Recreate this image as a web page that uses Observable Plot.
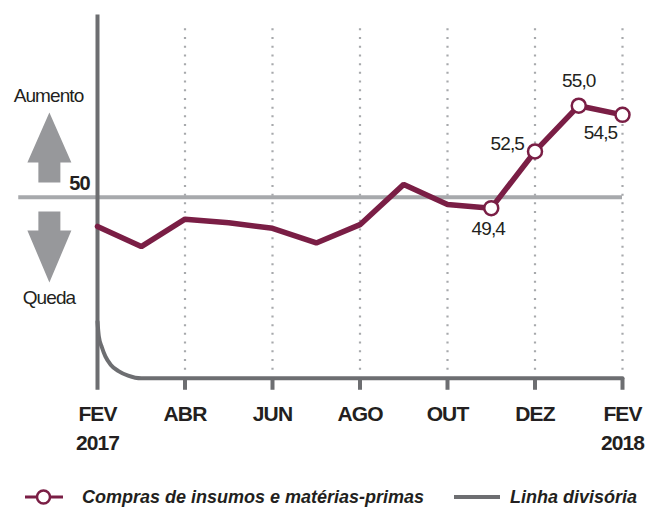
<!DOCTYPE html>
<html><head><meta charset="utf-8">
<script src="https://cdn.jsdelivr.net/npm/d3@7"></script>
<script src="https://cdn.jsdelivr.net/npm/@observablehq/plot@0.6"></script>
<style>
body{margin:0;background:#fff;font-family:"Liberation Sans",Arial,sans-serif;}
#chart svg{display:block;}
#legend{position:relative;height:29px;width:648px;color:#231f20;font-weight:bold;font-style:italic;font-size:18px;}
#legend .it{position:absolute;top:0;height:29px;line-height:29px;white-space:nowrap;}
#legend svg{position:absolute;top:0;}
</style></head><body>
<div id="chart"></div>
<div id="legend"></div>
<script>
// ---- data ----
const monthIndex = [0,1,2,3,4,5,6,7,8,9,10,11,12];
const monthNames = ["FEV\n2017","MAR","ABR","MAI","JUN","JUL","AGO","SET","OUT","NOV","DEZ","JAN","FEV\n2018"];
const compras = [48.4,47.3,48.8,48.6,48.3,47.5,48.5,50.7,49.6,49.4,52.5,55.0,54.5];
const markedMonths = [9,10,11,12];
const tickMonths = [0,2,4,6,8,10,12];
const gridMonths = [2,4,6,8,10,12];
const divisoriaMonth = [0,0.03,0.1,0.18,0.3,0.48,0.7,1,12];
const divisoriaValue = [43.2,42.4,41.8,41.3,40.85,40.5,40.25,40.1,40.1];
const referenceLevel = 50;
const seriesName = "Compras de insumos e matérias-primas";
const divisoriaName = "Linha divisória";

// ---- style ----
const maroon = "#7a1e45";
const darkGray = "#6d6e71";
const lightGray = "#a7a9ac";
const ink = "#231f20";

const comprasData = monthIndex.map((m,i)=>({m, v: compras[i]}));
const marked = comprasData.filter(d=>markedMonths.includes(d.m));
const labelOffsets = {9:{dx:-3,dy:21,anchor:"middle"},10:{dx:-11,dy:-8,anchor:"end"},11:{dx:0,dy:-25,anchor:"middle"},12:{dx:-22,dy:18,anchor:"middle"}};
const fmt = v => v.toFixed(1).replace(".", ",");
const divisoria = divisoriaMonth.map((m,i)=>({m, v: divisoriaValue[i]}));

const arrowUp = {draw(ctx){ctx.moveTo(0,-35);ctx.lineTo(22,15);ctx.lineTo(11,15);ctx.lineTo(11,35);ctx.lineTo(-11,35);ctx.lineTo(-11,15);ctx.lineTo(-22,15);ctx.closePath();}};
const arrowDown = {draw(ctx){ctx.moveTo(0,35.5);ctx.lineTo(22,-16.5);ctx.lineTo(11,-16.5);ctx.lineTo(11,-35.5);ctx.lineTo(-11,-35.5);ctx.lineTo(-11,-16.5);ctx.lineTo(-22,-16.5);ctx.closePath();}};

const chart = Plot.plot({
  width: 648, height: 480,
  marginTop: 0, marginLeft: 0, marginRight: 0, marginBottom: 90,
  style: {fontFamily: "'Liberation Sans', Arial, sans-serif", letterSpacing: "-0.9px"},
  x: {domain: [0,12], range: [97,622]},
  y: {domain: [40,60], range: [379.7,13.7], axis: null},
  marks: [
    Plot.ruleX(gridMonths, {y1: 40.55, y2: 59.55, stroke: lightGray, strokeWidth: 2.2, strokeDasharray: "2,6.7"}),
    Plot.ruleY([referenceLevel], {x1: -1.8, x2: 12, stroke: lightGray, strokeWidth: 4}),
    Plot.ruleX([0], {y1: 39.45, y2: 59.95, stroke: darkGray, strokeWidth: 4}),
    Plot.line(divisoria, {x: "m", y: "v", stroke: darkGray, strokeWidth: 4, curve: "monotone-x"}),
    Plot.ruleX(gridMonths, {y1: 39.45, y2: 40.1, stroke: darkGray, strokeWidth: 4}),
    Plot.dot([{m:-1.1, v:52.72}], {x:"m", y:"v", symbol: arrowUp, fill: "#97989b", stroke: null}),
    Plot.dot([{m:-1.1, v:47.28}], {x:"m", y:"v", symbol: arrowDown, fill: "#97989b", stroke: null}),
    Plot.text([{m:-1.12, v:55.53, t:"Aumento"},{m:-1.11, v:44.49, t:"Queda"}], {x:"m", y:"v", text:"t", fontSize: 19, fill: ink}),
    Plot.text([{m:-0.18, v:50.72, t:String(referenceLevel)}], {x:"m", y:"v", text:"t", textAnchor:"end", fontSize: 20, fontWeight:"bold", fill: ink}),
    Plot.line(comprasData, {x:"m", y:"v", stroke: maroon, strokeWidth: 5.5, strokeLinejoin: "miter"}),
    Plot.dot(marked, {x:"m", y:"v", r: 7, fill: "white", stroke: maroon, strokeWidth: 2.5}),
    ...marked.map(d => Plot.text([d], {x:"m", y:"v", text: e => fmt(e.v), dx: labelOffsets[d.m].dx, dy: labelOffsets[d.m].dy, textAnchor: labelOffsets[d.m].anchor, fontSize: 19, fill: ink})),
    Plot.axisX({ticks: tickMonths, tickFormat: m => monthNames[m], tickSize: 0, tickPadding: 10, fontSize: 21, fontWeight: "bold", lineHeight: 1.38, fill: ink, label: null})
  ]
});
document.getElementById("chart").appendChild(chart);

const leg = document.getElementById("legend");
leg.innerHTML = `
<svg width="40" height="29" style="left:24px"><line x1="1" x2="39" y1="17" y2="17" stroke="${maroon}" stroke-width="3"/><circle cx="19.5" cy="17" r="6.5" fill="white" stroke="${maroon}" stroke-width="2.5"/></svg>
<span class="it" style="left:82px;top:3px">${seriesName}</span>
<svg width="48" height="29" style="left:454px"><line x1="0" x2="46" y1="17" y2="17" stroke="${darkGray}" stroke-width="4"/></svg>
<span class="it" style="left:510px;top:3px">${divisoriaName}</span>`;
</script>
</body></html>
